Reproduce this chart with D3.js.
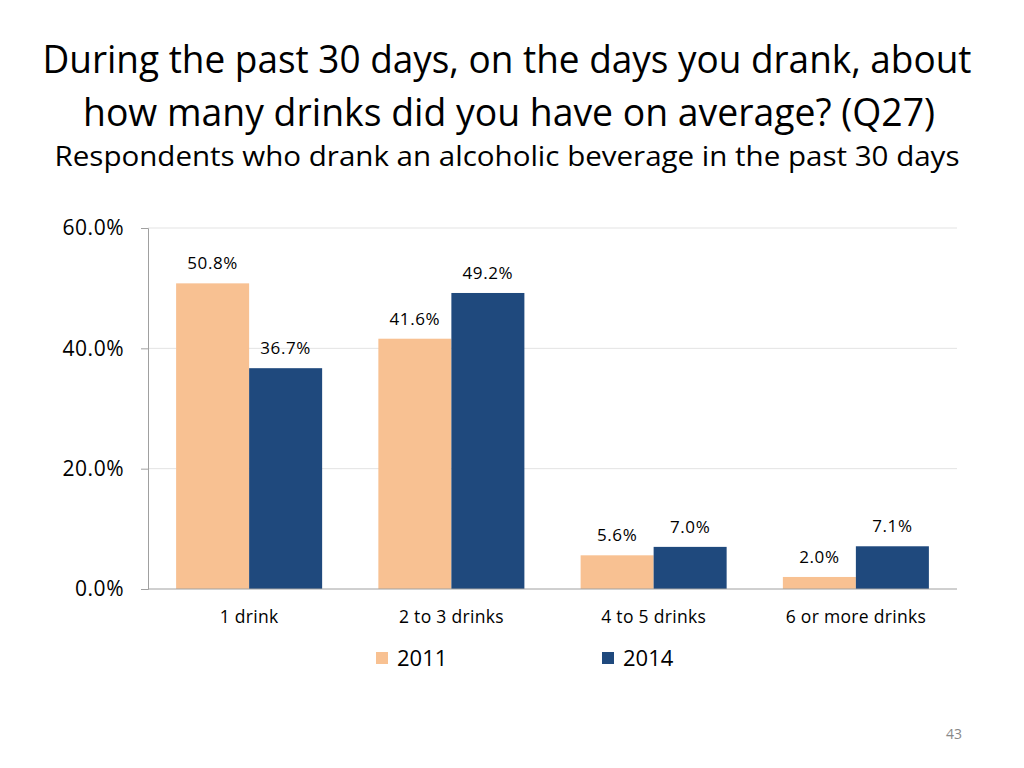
<!DOCTYPE html>
<html>
<head>
<meta charset="utf-8">
<script src="https://cdn.jsdelivr.net/npm/d3@7"></script>
<style>
  body { margin: 0; background: #fff; }
  svg { display: block; font-family: 'Open Sans', 'Noto Sans', sans-serif; }
</style>
</head>
<body>
<svg id="chart" width="1024" height="768"></svg>
<script>
var categories = ['1 drink', '2 to 3 drinks', '4 to 5 drinks', '6 or more drinks'];
var seriesNames = ['2011', '2014'];
var values2011 = [50.8, 41.6, 5.6, 2.0];
var values2014 = [36.7, 49.2, 7.0, 7.1];
var yTicks = [0, 20, 40, 60];
var colors = ['#F8C192', '#1F497D'];

var svg = d3.select('#chart');
var margin = { top: 228, right: 67, bottom: 179, left: 148 };
var width = 1024 - margin.left - margin.right;
var height = 768 - margin.top - margin.bottom;

/*
 * Titles, set to the width they take in the slide
 */
function fitText(sel, target) {
  sel.attr('textLength', target).attr('lengthAdjust', 'spacingAndGlyphs');
}

var t1 = svg.append('text')
  .attr('x', 507).attr('y', 73)
  .attr('text-anchor', 'middle')
  .attr('font-size', 38)
  .attr('fill', '#000')
  .text('During the past 30 days, on the days you drank, about');
fitText(t1, 929);

var t2 = svg.append('text')
  .attr('x', 509).attr('y', 126)
  .attr('text-anchor', 'middle')
  .attr('font-size', 38)
  .attr('fill', '#000')
  .text('how many drinks did you have on average? (Q27)');
fitText(t2, 852);

var t3 = svg.append('text')
  .attr('x', 507).attr('y', 166)
  .attr('text-anchor', 'middle')
  .attr('font-size', 27)
  .attr('fill', '#000')
  .text('Respondents who drank an alcoholic beverage in the past 30 days');
fitText(t3, 905);

var g = svg.append('g')
  .attr('transform', 'translate(' + margin.left + ',' + margin.top + ')');

var x = d3.scaleBand()
  .domain(categories)
  .range([0, width])
  .paddingInner(0.278)
  .paddingOuter(0.139);

var xSub = d3.scaleBand()
  .domain(seriesNames)
  .range([0, x.bandwidth()]);

var y = d3.scaleLinear()
  .domain([0, 60])
  .range([height, 0]);

// gridlines
g.selectAll('.grid')
  .data(yTicks.slice(1))
  .enter().append('line')
  .attr('class', 'grid')
  .attr('x1', 0).attr('x2', width)
  .attr('y1', function(d) { return y(d); })
  .attr('y2', function(d) { return y(d); })
  .attr('stroke', '#e3e3e3')
  .attr('stroke-width', 1);

// y axis
var yAxis = g.append('g')
  .call(d3.axisLeft(y)
    .tickValues(yTicks)
    .tickSize(7)
    .tickPadding(17)
    .tickFormat(function(d) { return d.toFixed(1) + '%'; }));
yAxis.select('.domain').attr('stroke', '#a0a0a0');
yAxis.selectAll('.tick line').attr('stroke', '#a0a0a0');
yAxis.selectAll('.tick text')
  .attr('font-size', 21)
  .attr('letter-spacing', 0.5)
  .attr('fill', '#000')
  .attr('font-family', "'Open Sans', sans-serif");

// bars
var rows = categories.map(function(c, i) {
  return { cat: c, vals: [values2011[i], values2014[i]] };
});

var group = g.selectAll('.bar-group')
  .data(rows)
  .enter().append('g')
  .attr('class', 'bar-group')
  .attr('transform', function(d) { return 'translate(' + x(d.cat) + ',0)'; });

var cells = group.selectAll('.cell')
  .data(function(d) {
    return d.vals.map(function(v, j) { return { s: seriesNames[j], v: v, j: j }; });
  })
  .enter();

cells.append('rect')
  .attr('x', function(d) { return xSub(d.s); })
  .attr('y', function(d) { return y(d.v); })
  .attr('width', xSub.bandwidth())
  .attr('height', function(d) { return height - y(d.v); })
  .attr('fill', function(d) { return colors[d.j]; });

cells.append('text')
  .attr('x', function(d) { return xSub(d.s) + xSub.bandwidth() / 2; })
  .attr('y', function(d) { return y(d.v) - 14; })
  .attr('text-anchor', 'middle')
  .attr('font-size', 17)
  .attr('letter-spacing', 0.6)
  .attr('fill', '#000')
  .text(function(d) { return d.v.toFixed(1) + '%'; });

// x axis baseline
g.append('line')
  .attr('x1', 0).attr('x2', width)
  .attr('y1', height).attr('y2', height)
  .attr('stroke', '#a0a0a0');

g.selectAll('.cat-label')
  .data(categories)
  .enter().append('text')
  .attr('class', 'cat-label')
  .attr('x', function(d) { return x(d) + x.bandwidth() / 2; })
  .attr('y', height + 34)
  .attr('text-anchor', 'middle')
  .attr('font-size', 17.5)
  .attr('letter-spacing', 0.3)
  .attr('fill', '#000')
  .text(function(d) { return d; });

// legend
var legendX = [376, 602];
var legend = svg.selectAll('.legend')
  .data(seriesNames)
  .enter().append('g')
  .attr('class', 'legend')
  .attr('transform', function(d, i) { return 'translate(' + legendX[i] + ',652)'; });

legend.append('rect')
  .attr('width', 12).attr('height', 12)
  .attr('fill', function(d, i) { return colors[i]; });

legend.append('text')
  .attr('x', 21).attr('y', 14)
  .attr('font-size', 22)
  .attr('fill', '#000')
  .text(function(d) { return d; });

// page number
svg.append('text')
  .attr('x', 962).attr('y', 739)
  .attr('text-anchor', 'end')
  .attr('font-size', 14)
  .attr('fill', '#888')
  .text('43');
</script>
</body>
</html>
